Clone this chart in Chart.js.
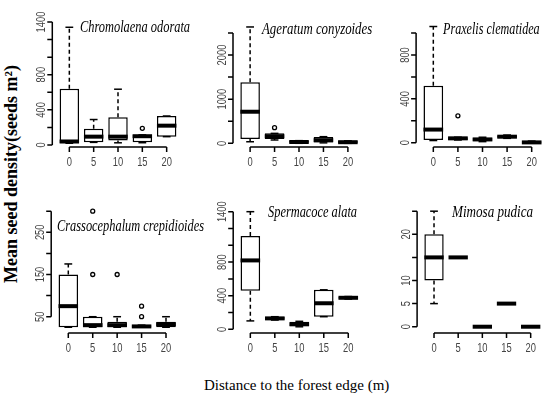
<!DOCTYPE html>
<html>
<head>
<meta charset="utf-8">
<script src="https://cdn.jsdelivr.net/npm/chart.js@4"></script>
<style>
  html, body { margin: 0; padding: 0; background: #fff; }
  #wrap { position: relative; width: 550px; height: 395px; overflow: hidden; }
  #wrap canvas { position: absolute; left: 0; top: 0; }
  .sp { position: absolute; font: italic 16px "Liberation Serif", "Times New Roman", serif;
        line-height: 16px; white-space: nowrap; transform-origin: 0 0; color: #000; }
  #ytitle { position: absolute; font: bold 18px "Liberation Serif", "Times New Roman", serif;
            line-height: 18px; white-space: nowrap; }
  #xtitle { position: absolute; font: 15px "Liberation Serif", "Times New Roman", serif;
            line-height: 15px; white-space: nowrap; }
</style>
</head>
<body>
<div id="wrap">
  <div id="ytitle">Mean seed density(seeds m²)</div>
  <div id="xtitle">Distance to the forest edge (m)</div>
</div>
<script>
"use strict";

const DISTANCES = [0, 5, 10, 15, 20];
const X_LABELS = ["0", "5", "10", "15", "20"];

// box stats per distance: [min, q1, median, q3, max]
const CHROMOLAENA = [[20, 20, 40, 640, 1340], [30, 30, 95, 185, 290], [25, 50, 95, 315, 635], [26, 30, 100, 115, 115], [95, 95, 220, 330, 330]];
const CHROMOLAENA_OUT = [[15, 190]];
const AGERATUM = [[35, 100, 715, 1385, 2635], [75, 100, 160, 225, 225], [0, 10, 30, 60, 60], [10, 20, 70, 140, 150], [0, 5, 25, 55, 55]];
const AGERATUM_OUT = [[5, 355]];
const PRAXELIS = [[20, 25, 120, 520, 1060], [25, 25, 40, 50, 50], [10, 15, 30, 45, 50], [40, 45, 55, 65, 70], [0, 0, 3, 12, 15]];
const PRAXELIS_OUT = [[5, 245]];
const CRASSOCEPHALUM = [[25, 25, 75, 150, 175], [25, 25, 30, 50, 50], [25, 25, 30, 38, 50], [25, 25, 27, 30, 30], [25, 25, 32, 38, 50]];
const CRASSOCEPHALUM_OUT = [[5, 150], [5, 300], [10, 150], [15, 50], [15, 75]];
const SPERMACOCE = [[100, 460, 820, 1110, 1400], [110, 115, 130, 145, 150], [30, 35, 60, 90, 95], [150, 150, 310, 470, 470], [360, 365, 375, 385, 390]];
const SPERMACOCE_OUT = [];
const MIMOSA = [[5, 10, 15, 20, 25], [15, 15, 15, 15, 15], [0, 0, 0, 0, 0], [5, 5, 5, 5, 5], [0, 0, 0, 0, 0]];
const MIMOSA_OUT = [];

const Y_TICKS_CHROMOLAENA = [0, 200, 400, 600, 800, 1000, 1200, 1400];
const Y_LABELS_CHROMOLAENA = [0, 400, 800, 1400];
const Y_TICKS_AGERATUM = [0, 500, 1000, 1500, 2000, 2500];
const Y_LABELS_AGERATUM = [0, 1000, 2000];
const Y_TICKS_PRAXELIS = [0, 200, 400, 600, 800, 1000];
const Y_LABELS_PRAXELIS = [0, 400, 800];
const Y_TICKS_CRASSOCEPHALUM = [50, 100, 150, 200, 250, 300];
const Y_LABELS_CRASSOCEPHALUM = [50, 150, 250];
const Y_TICKS_SPERMACOCE = [0, 200, 400, 600, 800, 1000, 1200, 1400];
const Y_LABELS_SPERMACOCE = [0, 400, 800, 1400];
const Y_TICKS_MIMOSA = [0, 5, 10, 15, 20, 25];
const Y_LABELS_MIMOSA = [0, 5, 10, 20];

// layout: plot region in px, y range, title spot
const PANELS = [
  { name: "Chromolaena odorata", stats: CHROMOLAENA, out: CHROMOLAENA_OUT,
    yTicks: Y_TICKS_CHROMOLAENA, yLabels: Y_LABELS_CHROMOLAENA,
    area: { l: 52.3, r: 183.7, t: 15, b: 147 }, yMin: -22.8, yMax: 1479.7,
    title: { x: 80, base: 32.5, w: 110 } },
  { name: "Ageratum conyzoides", stats: AGERATUM, out: AGERATUM_OUT,
    yTicks: Y_TICKS_AGERATUM, yLabels: Y_LABELS_AGERATUM,
    area: { l: 233, r: 365, t: 15, b: 147 }, yMin: -83.8, yMax: 2906,
    title: { x: 262, base: 34, w: 110 } },
  { name: "Praxelis clematidea", stats: PRAXELIS, out: PRAXELIS_OUT,
    yTicks: Y_TICKS_PRAXELIS, yLabels: Y_LABELS_PRAXELIS,
    area: { l: 416.1, r: 548.9, t: 15, b: 147 }, yMin: -39, yMax: 1165,
    title: { x: 443, base: 34.5, w: 97 } },
  { name: "Crassocephalum crepidioides", stats: CRASSOCEPHALUM, out: CRASSOCEPHALUM_OUT,
    yTicks: Y_TICKS_CRASSOCEPHALUM, yLabels: Y_LABELS_CRASSOCEPHALUM,
    area: { l: 51.2, r: 183.1, t: 200, b: 333 }, yMin: 11.4, yMax: 326.5,
    title: { x: 57, base: 231, w: 147 } },
  { name: "Spermacoce alata", stats: SPERMACOCE, out: SPERMACOCE_OUT,
    yTicks: Y_TICKS_SPERMACOCE, yLabels: Y_LABELS_SPERMACOCE,
    area: { l: 233.2, r: 365.4, t: 200, b: 333 }, yMin: -44, yMax: 1539,
    title: { x: 268, base: 217, w: 89 } },
  { name: "Mimosa pudica", stats: MIMOSA, out: MIMOSA_OUT,
    yTicks: Y_TICKS_MIMOSA, yLabels: Y_LABELS_MIMOSA,
    area: { l: 417.1, r: 547.6, t: 200, b: 333 }, yMin: -1.36, yMax: 27.42,
    title: { x: 452, base: 217, w: 81 } },
];

const W = 550, H = 395;
const LABEL_FONT = '13px "Liberation Sans", Arial, sans-serif';
const LABEL_SQUEEZE = 0.72;

function line(ctx, x1, y1, x2, y2) {
  ctx.beginPath(); ctx.moveTo(x1, y1); ctx.lineTo(x2, y2); ctx.stroke();
}

// whiskers, staples and the thick median, R style
function boxPlugin(p) {
  return {
    id: "boxExtras",
    afterDatasetsDraw(chart) {
      const ctx = chart.ctx, ys = chart.scales.y;
      const meta = chart.getDatasetMeta(0);
      ctx.save();
      ctx.strokeStyle = "#000";
      ctx.lineCap = "butt";
      p.stats.forEach((s, i) => {
        const el = meta.data[i];
        const x = el.x, half = el.width / 2;
        const [mn, q1, md, q3, mx] = s.map(v => ys.getPixelForValue(v));
        ctx.lineWidth = 1.5;
        ctx.setLineDash([4, 3]);
        if (mx < q3 - 0.5) line(ctx, x, q3, x, mx);
        if (mn > q1 + 0.5) line(ctx, x, q1, x, mn);
        ctx.setLineDash([]);
        line(ctx, x - half * 0.4, mx, x + half * 0.4, mx);
        line(ctx, x - half * 0.4, mn, x + half * 0.4, mn);
        ctx.lineWidth = 4;
        line(ctx, x - half, md, x + half, md);
      });
      ctx.restore();
    },
  };
}

// axes drawn like base R: lines only between end ticks, labels parallel to axis
function axesPlugin(p) {
  return {
    id: "rAxes",
    afterDraw(chart) {
      const { ctx, chartArea } = chart;
      const xs = chart.scales.x, ys = chart.scales.y;
      const ax = chartArea.left, by = chartArea.bottom;
      ctx.save();
      ctx.strokeStyle = "#000";
      ctx.lineWidth = 1.5;
      ctx.beginPath();
      ctx.moveTo(ax, ys.getPixelForValue(p.yTicks[0]));
      ctx.lineTo(ax, ys.getPixelForValue(p.yTicks[p.yTicks.length - 1]));
      p.yTicks.forEach(v => {
        const y = ys.getPixelForValue(v);
        ctx.moveTo(ax, y); ctx.lineTo(ax - 5, y);
      });
      ctx.moveTo(xs.getPixelForValue(DISTANCES[0]), by);
      ctx.lineTo(xs.getPixelForValue(DISTANCES[DISTANCES.length - 1]), by);
      DISTANCES.forEach(d => {
        const x = xs.getPixelForValue(d);
        ctx.moveTo(x, by); ctx.lineTo(x, by + 5);
      });
      ctx.stroke();

      ctx.fillStyle = "#444";
      ctx.font = LABEL_FONT;
      ctx.textAlign = "center";
      ctx.textBaseline = "middle";
      p.yLabels.forEach(v => {
        ctx.save();
        ctx.translate(ax - 11, ys.getPixelForValue(v));
        ctx.rotate(-Math.PI / 2);
        ctx.scale(LABEL_SQUEEZE, 1);
        ctx.fillText(String(v), 0, 0);
        ctx.restore();
      });
      DISTANCES.forEach((d, i) => {
        ctx.save();
        ctx.translate(xs.getPixelForValue(d), by + 15);
        ctx.scale(LABEL_SQUEEZE, 1);
        ctx.fillText(X_LABELS[i], 0, 0);
        ctx.restore();
      });
      ctx.restore();
    },
  };
}

const wrap = document.getElementById("wrap");

PANELS.forEach(p => {
  const cv = document.createElement("canvas");
  cv.width = W; cv.height = H;
  wrap.appendChild(cv);

  new Chart(cv, {
    type: "bar",
    data: {
      datasets: [
        {
          type: "bar",
          data: p.stats.map((s, i) => ({ x: DISTANCES[i], y: [s[1], s[3]] })),
          backgroundColor: "#fff",
          borderColor: "#000",
          borderWidth: 1.5,
          borderSkipped: false,
          barPercentage: 0.8,
          categoryPercentage: 1.0,
        },
        {
          type: "scatter",
          data: p.out.map(([x, y]) => ({ x, y })),
          pointRadius: 2,
          pointBorderWidth: 1.3,
          borderColor: "#000",
          backgroundColor: "#fff",
          clip: false,
        },
      ],
    },
    options: {
      responsive: false,
      animation: false,
      events: [],
      layout: {
        autoPadding: false,
        padding: { left: p.area.l, right: W - p.area.r, top: p.area.t, bottom: H - p.area.b },
      },
      scales: {
        x: { type: "linear", min: -3.5, max: 23.5, display: false, offset: false },
        y: { type: "linear", min: p.yMin, max: p.yMax, display: false },
      },
      plugins: { legend: { display: false }, tooltip: { enabled: false } },
    },
    plugins: [boxPlugin(p), axesPlugin(p)],
  });

  const t = document.createElement("div");
  t.className = "sp";
  t.textContent = p.name;
  wrap.appendChild(t);
  const k = p.title.w / t.offsetWidth;
  t.style.left = p.title.x + "px";
  t.style.top = (p.title.base - 13.4) + "px";
  t.style.transform = `scaleX(${k})`;
});

// axis titles
const yt = document.getElementById("ytitle");
const ky = 218 / yt.offsetWidth;
yt.style.left = (11 - yt.offsetWidth / 2) + "px";
yt.style.top = (174 - 9) + "px";
yt.style.transform = `rotate(-90deg) scaleX(${ky})`;

const xt = document.getElementById("xtitle");
xt.style.left = (296.5 - xt.offsetWidth / 2) + "px";
xt.style.top = (390 - 12.5) + "px";
</script>
</body>
</html>
